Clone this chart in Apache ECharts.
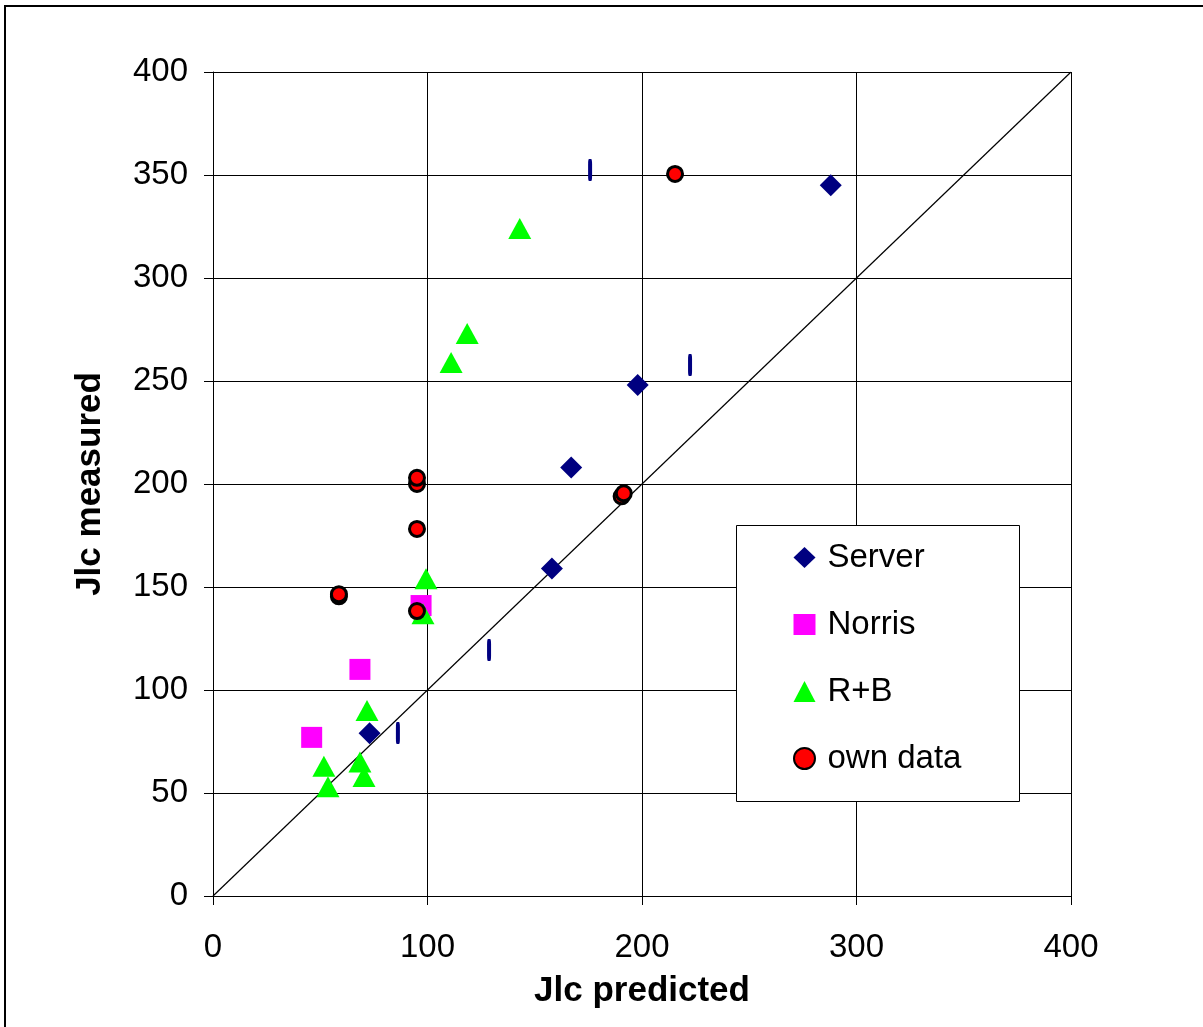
<!DOCTYPE html>
<html><head><meta charset="utf-8">
<script src="https://cdn.jsdelivr.net/npm/echarts@6/dist/echarts.min.js"></script>
<style>html,body{margin:0;padding:0;background:#fff}#c{width:1203px;height:1027px}</style>
</head><body><div id="c"></div>
<script>
const serverData = [[73,79],[158,159],[167,208],[198,248],[288,345]];
const norrisData = [[46,77],[68.5,110],[97,141]];
const rbData = [[143,324],[118.5,273],[111,259],[99.3,154],[97.9,137],[71.8,90],[68.5,65],[70.4,58],[51.7,63],[53.6,53]];
const ownData = [[215.4,350.5],[190.5,194],[191.5,195.5],[95.1,200],[95.1,203],[95.1,178.2],[58.7,145.5],[58.7,146.5],[95.1,138.3]];
const dashData = [[175.8,352.4],[222.4,257.8],[128.7,119.4],[86.2,79.1]];
const diagonal = [[0,0],[400,400]];
const xTicks = {min:0,max:400,interval:100};
const yTicks = {min:0,max:400,interval:50};

const FONT = '"Liberation Sans", Arial, sans-serif';
const FS = 33;
const TFS = 35;
const chart = echarts.init(document.getElementById('c'), null, {renderer:'canvas'});
chart.setOption({
  animation:false,
  backgroundColor:'#fff',
  textStyle:{fontFamily:FONT},
  grid:{left:213, top:72, right:132, bottom:131, containLabel:false},
  xAxis:{type:'value', min:xTicks.min, max:xTicks.max, interval:xTicks.interval,
    name:'Jlc predicted', nameLocation:'middle', nameGap:78,
    nameTextStyle:{fontFamily:FONT,fontSize:TFS,fontWeight:'bold',color:'#000'},
    axisLine:{show:true,onZero:false,lineStyle:{color:'#000',width:1}},
    axisTick:{show:true,inside:false,length:9,lineStyle:{color:'#000'}},
    axisLabel:{fontFamily:FONT,fontSize:FS,color:'#000',margin:35},
    splitLine:{show:true,lineStyle:{color:'#000',width:1}}},
  yAxis:{type:'value', min:yTicks.min, max:yTicks.max, interval:yTicks.interval,
    name:'Jlc measured', nameLocation:'middle', nameGap:105,
    nameTextStyle:{fontFamily:FONT,fontSize:TFS,fontWeight:'bold',color:'#000'},
    axisLine:{show:true,onZero:false,lineStyle:{color:'#000',width:1}},
    axisTick:{show:true,inside:false,length:9,lineStyle:{color:'#000'}},
    axisLabel:{fontFamily:FONT,fontSize:FS,color:'#000',margin:25},
    splitLine:{show:true,lineStyle:{color:'#000',width:1}}},
  legend:{
    data:['Server','Norris','R+B','own data'],
    orient:'vertical', left:793, top:541, padding:0, itemGap:34,
    itemWidth:22, itemHeight:21, z:20,
    textStyle:{fontFamily:FONT,fontSize:FS,color:'#000',lineHeight:33,padding:[0,0,0,7]}
  },
  graphic:[
    {type:'rect', z:-10, silent:true, shape:{x:5,y:6,width:1400,height:1200}, style:{fill:'none',stroke:'#000',lineWidth:2}},
    {type:'rect', z:15, silent:true, shape:{x:736.5,y:525.5,width:283,height:276}, style:{fill:'#fff',stroke:'#000',lineWidth:1}}
  ],
  series:[
    {name:'diag', type:'line', data:diagonal, symbol:'none', lineStyle:{color:'#000',width:1.2}, z:1, silent:true},
    {name:'dash', type:'scatter', data:dashData, symbol:'roundRect', symbolSize:[4,22], itemStyle:{color:'#000080',opacity:1}, z:2},
    {name:'Server', type:'scatter', data:serverData, symbol:'diamond', symbolSize:[22,22], itemStyle:{color:'#000080',opacity:1}, z:3},
    {name:'Norris', type:'scatter', data:norrisData, symbol:'rect', symbolSize:[21,21], itemStyle:{color:'#FF00FF',opacity:1}, z:4},
    {name:'R+B', type:'scatter', data:rbData, symbol:'triangle', symbolSize:[23,21], itemStyle:{color:'#00FF00',opacity:1}, z:5},
    {name:'own data', type:'scatter', data:ownData, symbol:'circle', symbolSize:15, itemStyle:{color:'#FF0000',borderColor:'#000',borderWidth:3,opacity:1}, z:6}
  ]
});
</script></body></html>
